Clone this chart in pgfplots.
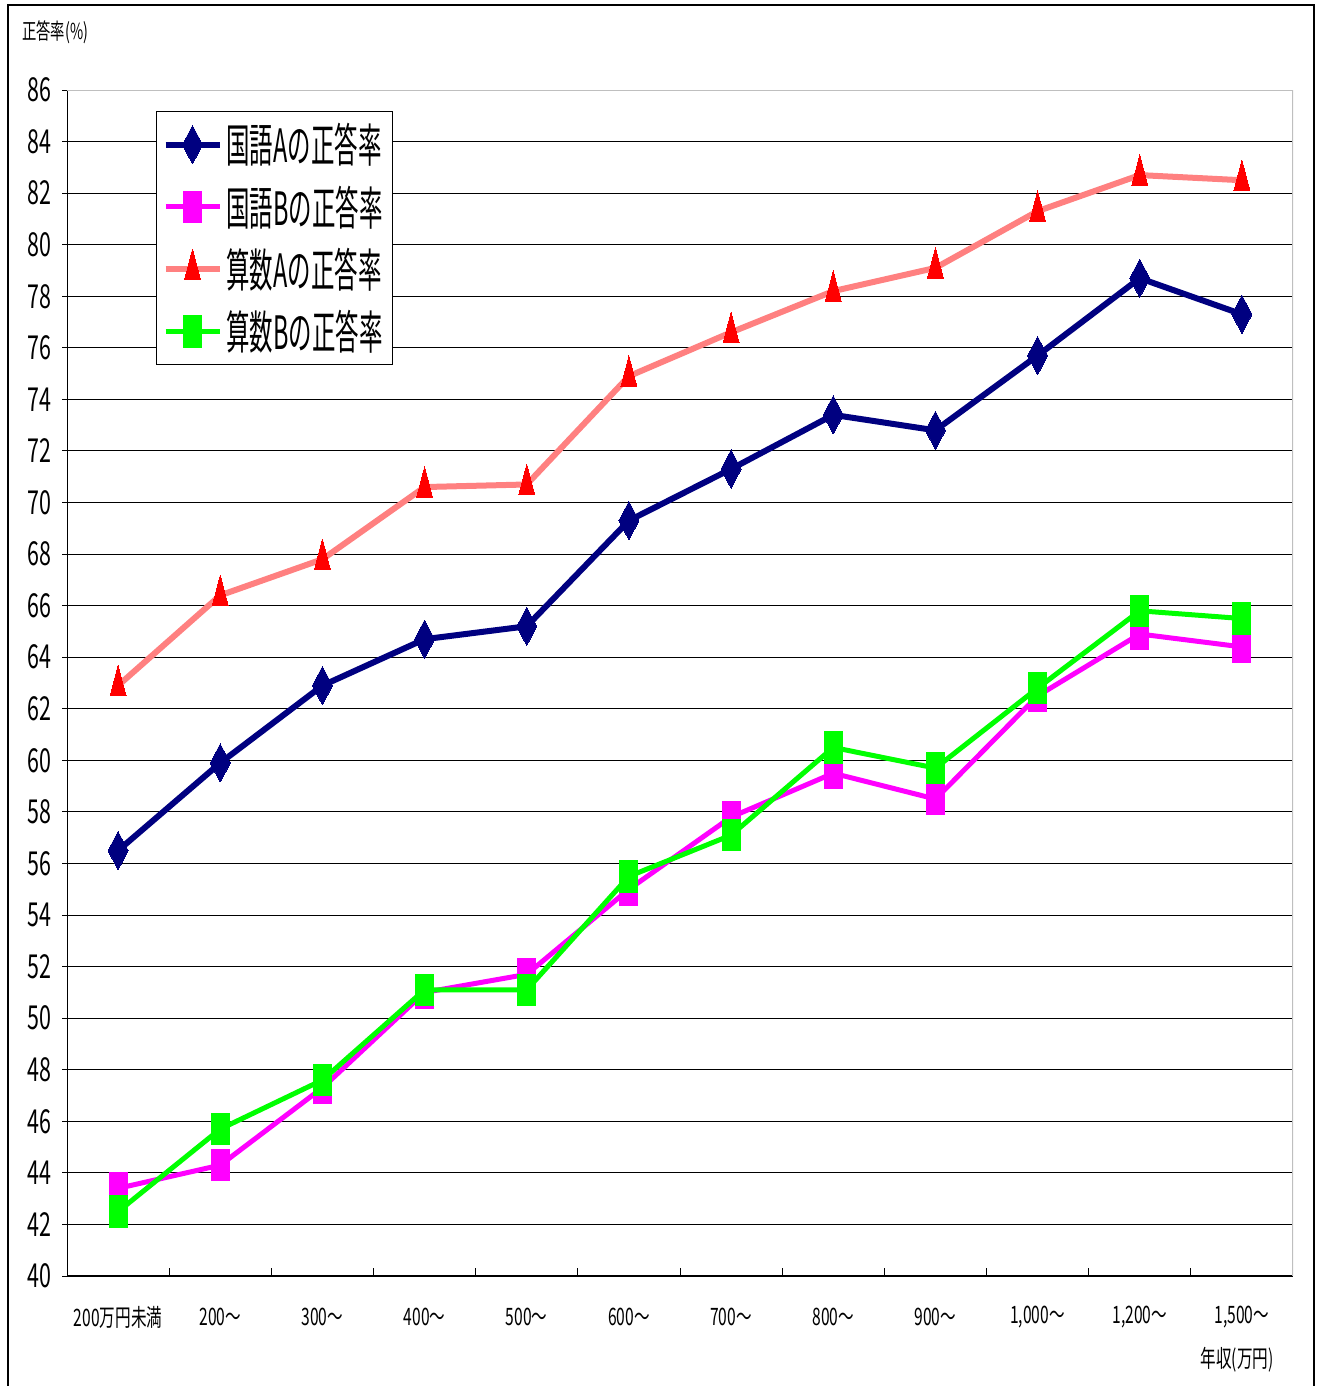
\documentclass[border=0pt]{standalone}
\usepackage{fontspec}
\setmainfont{Noto Sans CJK JP}[FakeStretch=0.65]
\newfontfamily\legfont{Noto Sans CJK JP}[FakeStretch=0.51]
\usepackage{pgfplots}
\pgfplotsset{compat=1.18}

\definecolor{kokA}{RGB}{0,0,128}
\definecolor{kokB}{RGB}{255,0,255}
\definecolor{sanAline}{RGB}{255,128,128}
\definecolor{sanAmark}{RGB}{255,0,0}
\definecolor{sanB}{RGB}{0,255,0}

\begin{document}
\begin{tikzpicture}
\useasboundingbox (0,0) rectangle (660.5pt,-693pt);
% outer frame
\draw[line width=1pt] (4pt,-693pt) -- (4pt,-2.5pt) -- (657pt,-2.5pt) -- (657pt,-693pt);
% axis titles
\node[anchor=west, inner sep=0pt, font=\fontsize{11pt}{11pt}\selectfont] at (11pt,-16pt) {正答率(\%)};
\node[anchor=center, inner sep=0pt, font=\fontsize{12pt}{12pt}\selectfont] at (618.5pt,-680pt) {年収(万円)};
\begin{axis}[
  at={(33.5pt,-45pt)}, anchor=north west,
  scale only axis, width=613pt, height=593pt,
  xmin=-0.5, xmax=11.5, ymin=40, ymax=86,
  ytick={40,42,...,86},
  /pgf/number format/assume math mode=true,
  ymajorgrids, grid style={black, line width=0.5pt},
  axis line style={draw=none},
  tick pos=left,
  ytick style={black, line width=0.5pt},
  tick align=outside, major tick length=2.5pt,
  yticklabel style={anchor=east, inner sep=0pt, xshift=-5pt, font=\fontsize{16.5pt}{16.5pt}\selectfont},
  xtick={0,...,11},
  xticklabels={200万円未満,200～,300～,400～,500～,600～,700～,800～,900～,{1,000～},{1,200～},{1,500～}},
  xtick style={draw=none},
  xticklabel style={anchor=center, inner sep=0pt, yshift=-18pt, font=\fontsize{12pt}{12pt}\selectfont},
  extra x ticks={0.5,1.5,...,10.5},
  extra x tick labels={},
  extra x tick style={tick align=inside, tick pos=left, major tick length=4pt, xtick style={draw=black, line width=0.5pt}},
  legend style={at={(0.0726,0.9823)}, anchor=north west, draw=black, line width=0.5pt, fill=white,
    font=\fontsize{23pt}{23pt}\legfont, row sep=6pt, inner xsep=3pt, inner ysep=4pt,
    legend cell align=left},
  legend image code/.code={%
    \draw[mark repeat=2,mark phase=2] plot coordinates {(0pt,0pt) (13.5pt,0pt) (27pt,0pt)};},
]
% frame lines of the plot area
\draw[black, line width=0.7pt] (rel axis cs:0,1) -- (rel axis cs:0,0) -- (rel axis cs:1,0);
\draw[black!25, line width=1pt] (rel axis cs:0,1) -- (rel axis cs:1,1) -- (rel axis cs:1,0);

\addplot[kokA, line width=3pt, mark=diamond*, mark size=6.7pt,
  mark options={solid, fill=kokA, draw=kokA, line width=0pt, yscale=1.42}]
  coordinates {(0,56.5) (1,59.9) (2,62.9) (3,64.7) (4,65.2) (5,69.3)
               (6,71.3) (7,73.4) (8,72.8) (9,75.7) (10,78.7) (11,77.3)};
\addlegendentry{国語Aの正答率}
\addplot[kokB, line width=2.5pt, mark=square*, mark size=4.5pt,
  mark options={solid, fill=kokB, draw=kokB, line width=0pt, yscale=1.75}]
  coordinates {(0,43.4) (1,44.3) (2,47.3) (3,51.0) (4,51.7) (5,55.0)
               (6,57.8) (7,59.5) (8,58.5) (9,62.5) (10,64.9) (11,64.4)};
\addlegendentry{国語Bの正答率}
\addplot[sanAline, line width=3pt, mark=triangle*, mark size=4.6pt,
  mark options={solid, fill=sanAmark, draw=sanAmark, line width=0pt, yscale=2.2}]
  coordinates {(0,62.9) (1,66.4) (2,67.8) (3,70.6) (4,70.7) (5,74.9)
               (6,76.6) (7,78.2) (8,79.1) (9,81.3) (10,82.7) (11,82.5)};
\addlegendentry{算数Aの正答率}
\addplot[sanB, line width=2.5pt, mark=square*, mark size=4.5pt,
  mark options={solid, fill=sanB, draw=sanB, line width=0pt, yscale=1.75}]
  coordinates {(0,42.5) (1,45.7) (2,47.6) (3,51.1) (4,51.1) (5,55.5)
               (6,57.1) (7,60.5) (8,59.7) (9,62.8) (10,65.8) (11,65.5)};
\addlegendentry{算数Bの正答率}
\end{axis}
\end{tikzpicture}
\end{document}
